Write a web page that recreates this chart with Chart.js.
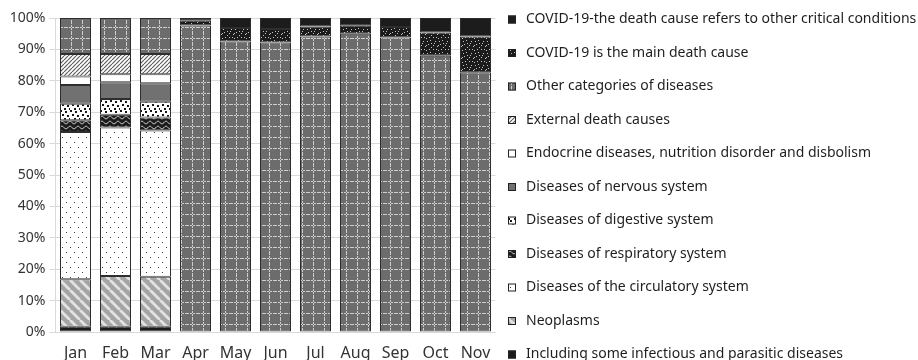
<!DOCTYPE html>
<html><head><meta charset="utf-8">
<script src="https://cdn.jsdelivr.net/npm/chart.js@4/dist/chart.umd.min.js"></script>
<style>html,body{margin:0;padding:0;background:#fff}#wrap{position:relative;width:918px;height:360px}</style>
</head><body><div id="wrap"><canvas id="c" width="918" height="360"></canvas></div>
<script>
const months = ['Jan','Feb','Mar','Apr','May','Jun','Jul','Aug','Sep','Oct','Nov'];
const infectious  = [1.7, 1.7, 1.7, null, null, null, null, null, null, null, null];
const neoplasms   = [15.1, 16.1, 15.9, null, null, null, null, null, null, null, null];
const circulatory = [46.9, 47.3, 46.6, null, null, null, null, null, null, null, null];
const respiratory = [3.7, 4.1, 4.1, null, null, null, null, null, null, null, null];
const digestive   = [5.3, 5.0, 5.0, null, null, null, null, null, null, null, null];
const nervous     = [6.0, 5.3, 5.9, null, null, null, null, null, null, null, null];
const endocrine   = [2.7, 2.6, 2.9, null, null, null, null, null, null, null, null];
const external    = [7.1, 6.4, 6.4, null, null, null, null, null, null, null, null];
const otherCat    = [11.5, 11.5, 11.5, 97.6, 92.5, 92.2, 94.1, 95.0, 93.8, 88.0, 82.7];
const covidMain   = [null, null, null, 1.5, 4.3, 4.3, 3.2, 2.5, 3.3, 7.4, 11.4];
const covidOther  = [null, null, null, 0.9, 3.2, 3.5, 2.7, 2.5, 2.9, 4.6, 5.9];
const yTicks = [0,10,20,30,40,50,60,70,80,90,100];
const labelNames = [
  'Including some infectious and parasitic diseases',
  'Neoplasms',
  'Diseases of the circulatory system',
  'Diseases of respiratory system',
  'Diseases of digestive system',
  'Diseases of nervous system',
  'Endocrine diseases, nutrition disorder and disbolism',
  'External death causes',
  'Other categories of diseases',
  'COVID-19 is the main death cause',
  'COVID-19-the death cause refers to other critical conditions'
];

function pat(w, h, draw) {
  const c = document.createElement('canvas'); c.width = w; c.height = h;
  const g = c.getContext('2d'); draw(g, w, h);
  return g.createPattern(c, 'repeat');
}
const P = {
  infectious: pat(8, 6, (g,w,h)=>{g.fillStyle='#1b1b1b';g.fillRect(0,0,w,h);g.fillStyle='#d8d8d8';g.fillRect(4,3,1,1);}),
  neoplasms: pat(10, 10, (g,w,h)=>{g.fillStyle='#a4a4a4';g.fillRect(0,0,w,h);g.strokeStyle='#e2e2e2';g.lineWidth=2.8;
    for (const x of [-10,0,10]) {g.beginPath();g.moveTo(x,0);g.lineTo(x+10,10);g.stroke();}}),
  circulatory: pat(8, 10, (g,w,h)=>{g.fillStyle='#fff';g.fillRect(0,0,w,h);g.fillStyle='#3a3a3a';g.fillRect(2,2,1,1);g.fillRect(6,7,1,1);}),
  respiratory: pat(8, 5, (g,w,h)=>{g.fillStyle='#1b1b1b';g.fillRect(0,0,w,h);g.strokeStyle='#e8e8e8';g.lineWidth=1;
    g.beginPath();for(let x=0;x<=8;x+=0.5){const y=2.5+1.3*Math.sin(x/8*2*Math.PI);if(x===0)g.moveTo(x,y);else g.lineTo(x,y);}g.stroke();}),
  digestive: pat(10, 10, (g,w,h)=>{g.fillStyle='#fff';g.fillRect(0,0,w,h);g.fillStyle='#161616';
    g.fillRect(0,0,2,2);g.fillRect(5,1,2,2);g.fillRect(2,4,2,2);g.fillRect(7,5,2,2);g.fillRect(4,8,2,2);g.fillRect(9,8,1,2);}),
  nervous: '#717171',
  endocrine: '#ffffff',
  external: pat(4, 4, (g,w,h)=>{g.fillStyle='#fff';g.fillRect(0,0,w,h);g.strokeStyle='#5e5e5e';g.lineWidth=1.2;
    for (const x of [-4,0,4]) {g.beginPath();g.moveTo(x,4);g.lineTo(x+4,0);g.stroke();}}),
  other: pat(11, 11, (g,w,h)=>{g.fillStyle='#6c6c6c';g.fillRect(0,0,w,h);g.fillStyle='#cfcfcf';
    for(let y=0;y<11;y+=3){g.fillRect(5,y,1,2);} for(let x=0;x<11;x+=3){g.fillRect(x,5,2,1);}}),
  covidMain: pat(12, 12, (g,w,h)=>{g.fillStyle='#1b1b1b';g.fillRect(0,0,w,h);g.fillStyle='#c4c4c4';
    [[1,1],[6,2],[10,4],[3,5],[8,8],[1,9],[5,10],[11,11],[4,1],[9,1],[7,5],[2,7],[11,7],[6,9]].forEach(p=>g.fillRect(p[0],p[1],1,1));}),
  covidOther: '#1c1c1c'
};
const fills = [P.infectious,P.neoplasms,P.circulatory,P.respiratory,P.digestive,P.nervous,P.endocrine,P.external,P.other,P.covidMain,P.covidOther];
const series = [infectious,neoplasms,circulatory,respiratory,digestive,nervous,endocrine,external,otherCat,covidMain,covidOther];

const datasets = series.map((d,i)=>({
  label: labelNames[i], data: d, backgroundColor: fills[i],
  borderColor: '#2e2e2e', borderWidth: 1, borderSkipped: false,
  barPercentage: 0.775, categoryPercentage: 1
}));

const FONT = "'Noto Sans', sans-serif";
const legendPlugin = {
  id: 'sideLegend',
  afterDraw(chart) {
    const ctx = chart.ctx;
    ctx.save();
    ctx.font = '14px ' + FONT;
    ctx.textBaseline = 'middle';
    const ds = chart.data.datasets.slice().reverse();
    ds.forEach((d, i) => {
      const y = 18.5 + 33.5 * i;
      ctx.fillStyle = d.backgroundColor;
      ctx.fillRect(508, y - 3, 8, 8);
      ctx.strokeStyle = '#222'; ctx.lineWidth = 1;
      ctx.strokeRect(508.5, y - 2.5, 7, 7);
      ctx.fillStyle = '#1e1e1e';
      ctx.fillText(d.label, 526, y + 1);
    });
    ctx.restore();
  }
};

new Chart(document.getElementById('c'), {
  type: 'bar',
  data: { labels: months, datasets },
  options: {
    responsive: false, animation: false,
    layout: { padding: { top: 18, right: 422.5, bottom: 0, left: 0 } },
    plugins: { legend: { display: false }, tooltip: { enabled: false } },
    scales: {
      x: {
        stacked: true,
        grid: { display: false, drawTicks: false },
        border: { display: false },
        ticks: { font: { family: FONT, size: 16 }, color: '#333', padding: 12 },
        afterFit(s) { s.height = 28; }
      },
      y: {
        stacked: true, min: 0, max: 100,
        afterBuildTicks(s) { s.ticks = yTicks.map(v => ({ value: v })); },
        grid: { color: '#d9d9d9', tickLength: 6 },
        border: { display: true, color: '#d9d9d9' },
        ticks: { font: { family: FONT, size: 14 }, color: '#333', padding: 4, callback: v => v + '%' },
        afterFit(s) { s.width = 55.5; }
      }
    }
  },
  plugins: [legendPlugin]
});
</script></body></html>
